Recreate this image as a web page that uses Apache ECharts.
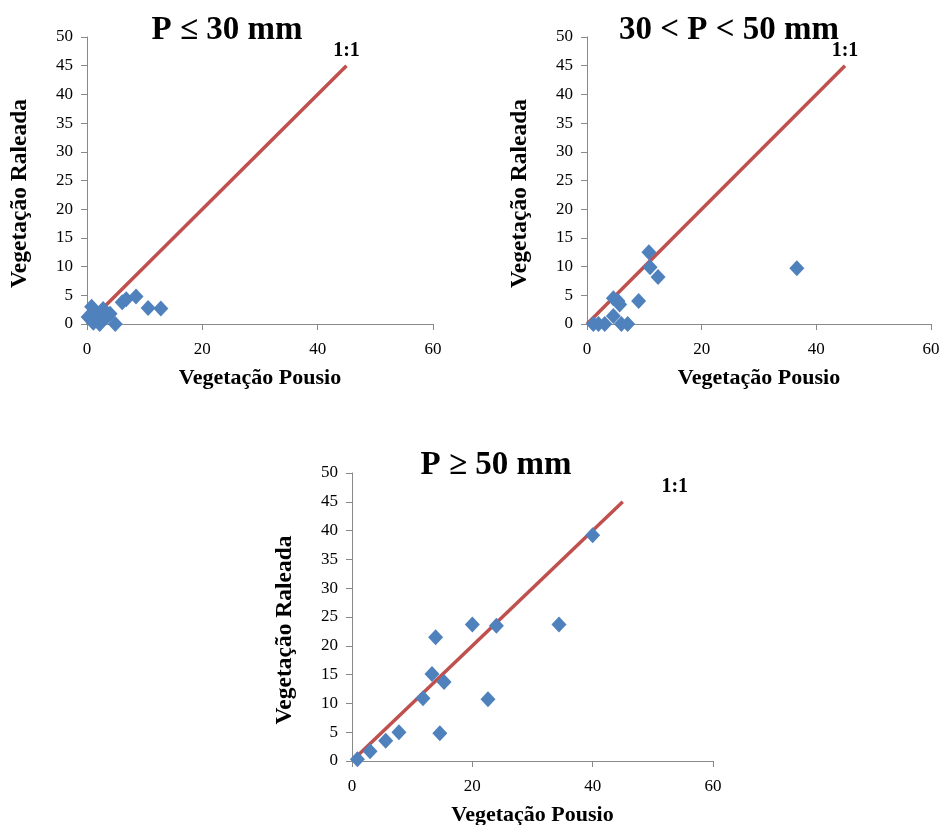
<!DOCTYPE html>
<html>
<head>
<meta charset="utf-8">
<script src="https://cdn.jsdelivr.net/npm/echarts@6/dist/echarts.min.js"></script>
<style>
  html, body { margin: 0; padding: 0; background: #fff; }
  #chart { width: 944px; height: 825px; }
</style>
</head>
<body>
<div id="chart"></div>
<script>
// dados de cada painel: [Vegetação Pousio, Vegetação Raleada]
const pontosP30 = [
  [0.2, 1.2], [0.8, 3.0], [1.1, 0.2], [1.5, 1.5], [2.2, 0], [2.5, 0.6],
  [2.8, 2.6], [3.4, 1.2], [4.0, 1.8], [4.9, 0], [6.1, 3.8], [6.8, 4.3],
  [8.5, 4.8], [10.6, 2.8], [12.8, 2.7]
]
const pontosP30a50 = [
  [1.1, 0], [2.0, 0], [3.1, 0], [4.6, 1.4], [4.6, 4.5], [5.4, 4.0],
  [5.7, 3.4], [6.0, 0], [7.1, 0], [9.0, 4.0], [10.8, 12.5], [11.0, 9.9],
  [12.4, 8.2], [36.6, 9.7]
]
const pontosP50 = [
  [0.9, 0.3], [3.0, 1.7], [5.6, 3.5], [7.8, 5.0], [11.8, 10.9], [13.3, 15.1],
  [13.9, 21.5], [14.6, 4.8], [15.3, 13.7], [20.0, 23.7], [22.6, 10.7],
  [24.0, 23.5], [34.4, 23.7], [40.0, 39.2]
]
const linha11 = [[0, 0], [45, 45]]
const titulos = ['P ≤ 30 mm', '30 < P < 50 mm', 'P ≥ 50 mm']
const nomeX = 'Vegetação Pousio'
const nomeY = 'Vegetação Raleada'

const serif = 'Liberation Serif'
const grids = [
  { left: 87, top: 37, width: 346, height: 287 },
  { left: 587, top: 37, width: 344, height: 287 },
  { left: 352, top: 473, width: 361, height: 288 }
]
const todosPontos = [pontosP30, pontosP30a50, pontosP50]
const titulosX = [222, 724, 491]
// posição do texto "1:1" em relação ao fim da linha
const offsets11 = [[0, 0], [0, 0], [52, 0]]

const eixo = {
  axisLine: { show: true, lineStyle: { color: '#898989', width: 1 } },
  axisTick: { show: true, length: 6, lineStyle: { color: '#898989' } },
  splitLine: { show: false },
  axisLabel: { color: '#000', fontFamily: serif, fontSize: 17 },
  nameLocation: 'middle',
  nameTextStyle: { color: '#000', fontFamily: serif, fontSize: 22, fontWeight: 'bold' }
}

const myChart = echarts.init(document.getElementById('chart'))
const option = {
  backgroundColor: '#fff',
  animation: false,
  title: titulos.map((t, i) => ({
    text: t,
    left: titulosX[i],
    top: i === 2 ? 444 : 9,
    textAlign: 'center',
    textStyle: { fontFamily: serif, fontSize: 33, fontWeight: 'bold', color: '#000' }
  })),
  grid: grids.map(g => Object.assign({ outerBoundsMode: 'none' }, g)),
  xAxis: grids.map((g, i) => Object.assign({}, eixo, {
    gridIndex: i, type: 'value', min: 0, max: 60, interval: 20,
    name: nomeX, nameGap: 43,
    axisLabel: Object.assign({}, eixo.axisLabel, { margin: 17 })
  })),
  yAxis: grids.map((g, i) => Object.assign({}, eixo, {
    gridIndex: i, type: 'value', min: 0, max: 50, interval: 5,
    name: nomeY, nameGap: 55, nameRotate: 90,
    nameTextStyle: Object.assign({}, eixo.nameTextStyle, { fontSize: 23.5, padding: [0, 26, 0, 0] }),
    axisLabel: Object.assign({}, eixo.axisLabel, { margin: 14 })
  })),
  series: []
}

todosPontos.forEach((pts, i) => {
  option.series.push({
    type: 'line',
    xAxisIndex: i,
    yAxisIndex: i,
    data: linha11,
    showSymbol: false,
    symbol: 'none',
    lineStyle: { color: '#C0504D', width: 3.5 },
    silent: true,
    z: 2
  })
  // rótulo "1:1" no fim da linha
  option.series.push({
    type: 'scatter',
    xAxisIndex: i,
    yAxisIndex: i,
    data: [linha11[1]],
    symbolSize: 2,
    itemStyle: { color: 'rgba(255,255,255,0)' },
    label: {
      show: true, formatter: '1:1', position: 'top', distance: 4,
      offset: offsets11[i], opacity: 1,
      fontFamily: serif, fontSize: 20, fontWeight: 'bold', color: '#000'
    },
    silent: true,
    z: 4
  })
  option.series.push({
    type: 'scatter',
    xAxisIndex: i,
    yAxisIndex: i,
    data: pts,
    symbol: 'diamond',
    symbolSize: [15, 16],
    itemStyle: { color: '#4F81BD', opacity: 1 },
    z: 3
  })
})

myChart.setOption(option)
</script>
</body>
</html>
